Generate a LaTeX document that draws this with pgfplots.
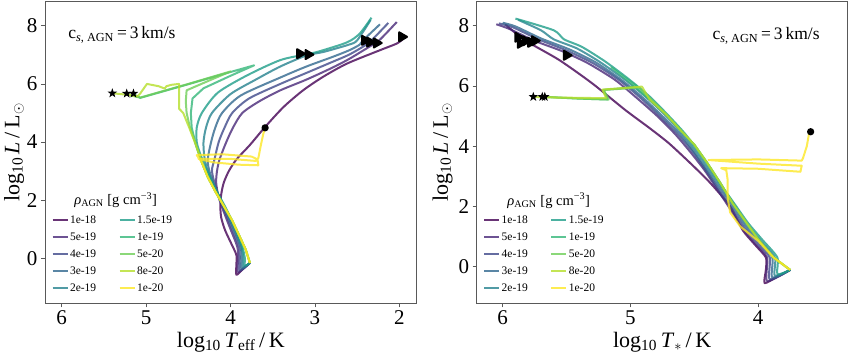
\documentclass[border=0pt]{standalone}
\usepackage{fontspec}
\setmainfont{Liberation Serif}
\usepackage{pgfplots}
\pgfplotsset{compat=1.18}
\definecolor{v0}{HTML}{440154}
\definecolor{v1}{HTML}{482878}
\definecolor{v2}{HTML}{3E4989}
\definecolor{v3}{HTML}{31688E}
\definecolor{v4}{HTML}{26828E}
\definecolor{v5}{HTML}{1F9E89}
\definecolor{v6}{HTML}{35B779}
\definecolor{v7}{HTML}{6ECE58}
\definecolor{v8}{HTML}{B5DE2B}
\definecolor{v9}{HTML}{FDE725}
\pgfdeclareplotmark{fstar}{%
  \pgfpathmoveto{\pgfpointpolar{90}{\pgfplotmarksize}}%
  \pgfpathlineto{\pgfpointpolar{126}{0.40\pgfplotmarksize}}%
  \pgfpathlineto{\pgfpointpolar{162}{\pgfplotmarksize}}%
  \pgfpathlineto{\pgfpointpolar{198}{0.40\pgfplotmarksize}}%
  \pgfpathlineto{\pgfpointpolar{234}{\pgfplotmarksize}}%
  \pgfpathlineto{\pgfpointpolar{270}{0.40\pgfplotmarksize}}%
  \pgfpathlineto{\pgfpointpolar{306}{\pgfplotmarksize}}%
  \pgfpathlineto{\pgfpointpolar{342}{0.40\pgfplotmarksize}}%
  \pgfpathlineto{\pgfpointpolar{18}{\pgfplotmarksize}}%
  \pgfpathlineto{\pgfpointpolar{54}{0.40\pgfplotmarksize}}%
  \pgfpathclose\pgfusepathqfill}
\pgfplotsset{
  hr/.style={
    scale only axis, x dir=reverse,
    axis line style={draw=black!65, line width=0.9pt},
    tick style={draw=black!65, line width=0.8pt},
    tick align=outside, tick pos=left, major tick length=4pt,
    /pgf/number format/assume math mode=true,
    tick label style={font=\fontsize{21}{21}\selectfont},
    label style={font=\fontsize{22}{22}\selectfont},
    ytick={0,2,4,6,8},
    ylabel={log\textsubscript{10}\,\textit{L}\,/\,L\textsubscript{$\odot$}},
    ylabel style={anchor=center},
    xlabel style={at={(axis description cs:0.5,-0.128)}, anchor=center},
    legend columns=5, transpose legend, legend cell align=left,
    legend image code/.code={\draw[##1, line width=2pt] (0pt,0pt) -- (15pt,0pt);},
    legend style={draw=none, fill=none, inner sep=0pt, anchor=south west,
      font=\fontsize{11.5}{12}\selectfont,
      nodes={inner sep=1.5pt, text height=8pt, text depth=2pt},
      row sep=4pt,
      /tikz/every even column/.append style={column sep=21pt}},
    every axis plot/.append style={line width=2pt, opacity=0.8, line join=round},
  },
  mk/.style={only marks, opacity=1, forget plot, black},
}
\begin{document}
\begin{tikzpicture}[x=1pt,y=1pt]
\useasboundingbox (0,0) rectangle (850,356);
%================ LEFT ================
\begin{axis}[hr, at={(45pt,52.7pt)}, anchor=south west, width=371.7pt, height=301.6pt,
  xmin=1.794, xmax=6.198, ymin=-1.55, ymax=8.83, xtick={2,3,4,5,6},
  xlabel={log\textsubscript{10}\,\textit{T}\textsubscript{eff}\,/\,K},
  ylabel style={at={(axis description cs:-0.083,0.5)}},
  legend style={at={(axis description cs:0.017,0.028)}}]
\addplot[v0, smooth, tension=0.45] coordinates {(3.77,-0.16)(3.85,-0.36)(3.93,-0.57)(3.93,-0.2)(3.93,0.11)(3.99,0.5)(4.065,0.97)(4.11,1.4)(4.12,1.77)(4.11,2.2)(4.08,2.6)(4.02,3.0)(3.93,3.4)(3.77,3.9)(3.59,4.52)(3.37,5.21)(3.14,5.78)(2.9,6.25)(2.62,6.70)(2.23,7.16)(2.03,7.39)(1.95,7.56)};
\addlegendentry{1e-18}
\addplot[v1, smooth, tension=0.45] coordinates {(3.77,-0.16)(3.91,-0.48)(3.91,0.0)(3.92,0.4)(4.0,1.0)(4.08,1.6)(4.14,2.1)(4.17,2.6)(4.16,3.0)(4.13,3.4)(4.05,4.0)(3.97,4.5)(3.86,5.0)(3.66,5.4)(3.41,5.78)(3.10,6.15)(2.8,6.55)(2.6,6.85)(2.40,7.2)(2.30,7.38)(2.22,7.55)(2.03,8.13)};
\addlegendentry{5e-19}
\addplot[v2, smooth, tension=0.45] coordinates {(3.77,-0.16)(3.89,-0.42)(3.89,0.0)(3.9,0.4)(3.98,1.0)(4.08,1.7)(4.17,2.4)(4.22,3.0)(4.19,3.4)(4.14,4.0)(4.07,4.5)(3.98,5.0)(3.78,5.5)(3.41,6.0)(3.10,6.38)(2.8,6.75)(2.6,7.0)(2.42,7.3)(2.33,7.5)(2.13,8.10)};
\addlegendentry{4e-19}
\addplot[v3, smooth, tension=0.45] coordinates {(3.77,-0.16)(3.87,-0.36)(3.87,0.0)(3.88,0.4)(3.96,1.0)(4.07,1.7)(4.18,2.4)(4.25,3.0)(4.27,3.4)(4.23,4.0)(4.18,4.5)(4.10,5.0)(3.88,5.6)(3.41,6.22)(3.10,6.6)(2.8,6.92)(2.6,7.15)(2.47,7.35)(2.43,7.5)(2.23,8.05)};
\addlegendentry{3e-19}
\addplot[v4, smooth, tension=0.45] coordinates {(3.77,-0.16)(3.85,-0.3)(3.85,0.0)(3.87,0.4)(3.95,1.0)(4.06,1.7)(4.18,2.4)(4.27,3.0)(4.31,3.5)(4.32,4.0)(4.29,4.5)(4.22,5.0)(4.0,5.65)(3.7,6.15)(3.41,6.6)(3.10,6.98)(2.9,7.1)(2.6,7.35)(2.5,7.5)(2.34,8.2)};
\addlegendentry{2e-19}
\addplot[v5, smooth, tension=0.45] coordinates {(3.77,-0.16)(3.83,-0.25)(3.83,0.0)(3.86,0.4)(3.94,1.0)(4.05,1.7)(4.18,2.4)(4.29,3.1)(4.36,3.6)(4.40,4.0)(4.40,4.5)(4.34,5.0)(4.15,5.7)(3.8,6.3)(3.41,6.82)(3.10,7.02)(2.95,7.12)(2.62,7.43)(2.47,7.73)(2.33,8.28)};
\addlegendentry{1.5e-19}
\addplot[v6] coordinates {(3.77,-0.16)(3.82,0.3)(3.90,0.8)(3.98,1.3)(4.08,1.8)(4.18,2.3)(4.27,2.8)(4.34,3.3)(4.41,3.9)(4.46,4.5)(4.47,5.0)(4.45,5.5)(4.32,5.85)(4.0,6.28)(3.72,6.64)(4.0,6.41)(4.5,5.99)(5.07,5.52)(5.12,5.6)(5.15,5.67)};
\addlegendentry{1e-19}
\addplot[v7] coordinates {(3.77,-0.16)(3.82,0.3)(3.90,0.8)(3.98,1.3)(4.08,1.8)(4.18,2.3)(4.27,2.8)(4.34,3.3)(4.41,3.9)(4.48,4.5)(4.52,5.0)(4.53,5.4)(4.52,5.78)(4.25,6.12)(4.0,6.43)(4.5,6.0)(5.07,5.53)(5.18,5.6)(5.23,5.67)};
\addlegendentry{5e-20}
\addplot[v8] coordinates {(3.77,-0.16)(3.82,0.3)(3.90,0.8)(3.98,1.3)(4.08,1.8)(4.18,2.3)(4.27,2.8)(4.34,3.3)(4.41,3.9)(4.49,4.5)(4.56,5.0)(4.61,5.15)(4.61,5.6)(4.61,6.0)(4.7,5.97)(4.76,5.92)(4.78,5.84)(4.85,5.92)(4.99,6.0)(5.07,5.67)(5.1,5.58)(5.3,5.65)(5.40,5.68)};
\addlegendentry{8e-20}
\addplot[v9] coordinates {(3.77,-0.16)(3.82,0.3)(3.90,0.8)(3.98,1.3)(4.08,1.8)(4.18,2.3)(4.27,2.8)(4.34,3.3)(4.40,3.55)(4.1,3.58)(3.75,3.5)(3.68,3.4)(3.67,3.2)(3.9,3.22)(4.2,3.3)(4.38,3.42)(4.0,3.42)(3.7,3.35)(3.67,3.45)(3.64,3.9)(3.61,4.3)(3.59,4.47)};
\addlegendentry{1e-20}
\addplot[mk, mark=fstar, mark size=5pt] coordinates {(5.40,5.68)(5.23,5.67)(5.15,5.67)};
\addplot[mk, mark=triangle*, mark size=5.2pt, mark options={rotate=-90}] coordinates {(3.18,7.04)(3.08,7.01)(2.41,7.50)(2.35,7.44)(2.27,7.41)(1.97,7.62)};
\addplot[mk, mark=*, mark size=2.6pt] coordinates {(3.59,4.49)};
\node[font=\fontsize{17.5}{17.5}\selectfont] at (axis description cs:0.207,0.89) {c\textsubscript{\textit{s}, AGN}\,=\,3\,km/s};
\node[font=\fontsize{14.5}{14.5}\selectfont] at (axis description cs:0.19,0.343) {\textit{ρ}\textsubscript{AGN} [g cm\textsuperscript{−3}]};
\end{axis}
%================ RIGHT ================
\begin{axis}[hr, at={(476.7pt,52.7pt)}, anchor=south west, width=371pt, height=301.6pt,
  xmin=3.30, xmax=6.203, ymin=-1.22, ymax=8.80, xtick={4,5,6},
  xlabel={log\textsubscript{10}\,\textit{T}\textsubscript{$\ast$}\,/\,K},
  ylabel style={at={(axis description cs:-0.092,0.5)}},
  legend style={at={(axis description cs:0.017,0.028)}}]
\addplot[v0, smooth, tension=0.4] coordinates {(3.75,-0.11)(3.85,-0.33)(3.95,-0.55)(3.94,-0.1)(3.94,0.3)(4.02,0.7)(4.12,1.2)(4.22,2.0)(4.38,2.8)(4.53,3.43)(4.70,4.1)(4.85,4.6)(5.04,5.2)(5.30,6.09)(5.56,6.87)(5.83,7.53)(5.98,8.05)};
\addlegendentry{1e-18}
\addplot[v1, smooth, tension=0.4] coordinates {(3.75,-0.11)(3.93,-0.48)(3.93,0.3)(4.02,0.75)(4.12,1.25)(4.21,1.85)(4.31,2.5)(4.42,3.2)(4.53,3.8)(4.65,4.4)(4.79,5.0)(4.95,5.6)(5.12,6.2)(5.33,6.75)(5.53,7.15)(5.75,7.5)(5.95,7.9)(6.05,8.05)};
\addlegendentry{5e-19}
\addplot[v2, smooth, tension=0.4] coordinates {(3.75,-0.11)(3.91,-0.42)(3.91,0.3)(4.0,0.75)(4.11,1.3)(4.2,1.9)(4.3,2.5)(4.41,3.2)(4.51,3.8)(4.63,4.4)(4.77,5.0)(4.92,5.6)(5.09,6.2)(5.29,6.75)(5.5,7.18)(5.72,7.55)(5.92,7.95)(6.03,8.08)};
\addlegendentry{4e-19}
\addplot[v3, smooth, tension=0.4] coordinates {(3.75,-0.11)(3.89,-0.36)(3.89,0.3)(3.99,0.8)(4.1,1.35)(4.19,1.95)(4.29,2.55)(4.4,3.2)(4.5,3.8)(4.61,4.4)(4.75,5.0)(4.9,5.6)(5.07,6.2)(5.27,6.78)(5.48,7.22)(5.7,7.58)(5.9,7.98)(6.0,8.1)};
\addlegendentry{3e-19}
\addplot[v4, smooth, tension=0.4] coordinates {(3.75,-0.11)(3.87,-0.3)(3.87,0.3)(3.98,0.85)(4.09,1.4)(4.18,2.0)(4.28,2.6)(4.39,3.25)(4.49,3.85)(4.59,4.4)(4.72,5.0)(4.87,5.6)(5.04,6.2)(5.24,6.8)(5.42,7.25)(5.6,7.55)(5.7,7.85)(5.88,8.2)};
\addlegendentry{2e-19}
\addplot[v5, smooth, tension=0.4] coordinates {(3.75,-0.11)(3.85,-0.25)(3.85,0.3)(3.97,0.9)(4.08,1.45)(4.18,2.05)(4.28,2.65)(4.38,3.3)(4.48,3.9)(4.58,4.45)(4.71,5.05)(4.85,5.65)(5.02,6.25)(5.2,6.82)(5.38,7.3)(5.52,7.55)(5.6,7.85)(5.9,8.24)};
\addlegendentry{1.5e-19}
\addplot[v6] coordinates {(3.75,-0.11)(3.88,0.3)(4.0,0.9)(4.1,1.5)(4.2,2.1)(4.3,2.8)(4.4,3.45)(4.5,4.05)(4.61,4.54)(4.72,5.05)(4.85,5.55)(4.97,6.0)(5.1,6.45)(5.15,6.62)(5.05,6.3)(4.95,6.0)(5.05,5.93)(5.21,5.87)(5.18,5.55)(5.4,5.58)(5.69,5.64)};
\addlegendentry{1e-19}
\addplot[v7] coordinates {(3.75,-0.11)(3.88,0.3)(4.0,0.9)(4.1,1.5)(4.2,2.1)(4.3,2.8)(4.4,3.45)(4.5,4.05)(4.61,4.54)(4.72,5.05)(4.80,5.4)(4.9,5.8)(4.93,5.95)(5.1,5.9)(5.21,5.87)(5.17,5.55)(5.4,5.58)(5.67,5.64)};
\addlegendentry{5e-20}
\addplot[v8] coordinates {(3.75,-0.11)(3.88,0.3)(4.0,0.9)(4.1,1.5)(4.2,2.1)(4.3,2.8)(4.4,3.45)(4.5,4.05)(4.61,4.54)(4.72,5.05)(4.85,5.55)(4.91,5.98)(5.0,5.95)(5.22,5.88)(5.19,5.6)(5.3,5.6)(5.64,5.62)(5.76,5.64)};
\addlegendentry{8e-20}
\addplot[v9] coordinates {(3.75,-0.11)(3.88,0.3)(4.0,0.85)(4.14,1.33)(4.22,1.8)(4.24,2.3)(4.24,2.9)(4.25,3.2)(4.29,3.27)(4.0,3.25)(3.67,3.15)(3.66,3.35)(4.0,3.42)(4.39,3.54)(4.0,3.56)(3.66,3.52)(3.65,3.6)(3.62,4.0)(3.60,4.48)};
\addlegendentry{1e-20}
\addplot[mk, mark=fstar, mark size=5pt] coordinates {(5.76,5.64)(5.69,5.64)(5.67,5.64)};
\addplot[mk, mark=triangle*, mark size=5.2pt, mark options={rotate=-90}] coordinates {(5.88,7.62)(5.86,7.42)(5.82,7.5)(5.78,7.45)(5.75,7.5)(5.50,7.02)};
\addplot[mk, mark=*, mark size=2.6pt] coordinates {(3.59,4.48)};
\node[font=\fontsize{17.5}{17.5}\selectfont] at (axis description cs:0.78,0.886) {c\textsubscript{\textit{s}, AGN}\,=\,3\,km/s};
\node[font=\fontsize{14.5}{14.5}\selectfont] at (axis description cs:0.194,0.34) {\textit{ρ}\textsubscript{AGN} [g cm\textsuperscript{−3}]};
\end{axis}
\end{tikzpicture}
\end{document}
